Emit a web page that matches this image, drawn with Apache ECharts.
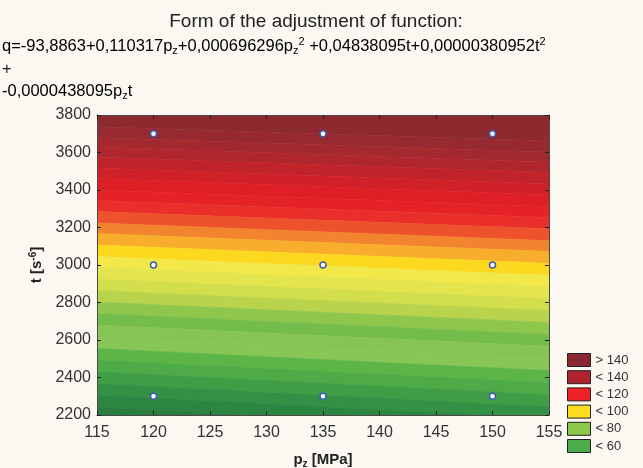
<!DOCTYPE html>
<html><head><meta charset="utf-8">
<script src="https://cdn.jsdelivr.net/npm/echarts@6/dist/echarts.min.js"></script>
<style>html,body{margin:0;padding:0;background:#fbf8f2;}#c{width:643px;height:468px;}</style>
</head><body><div id="c"></div>
<script>
// ---- data ----
const pMin = 115, pMax = 155;          // x axis range (MPa)
const tMin = 2200, tMax = 3800;        // y axis range
// contour band edges (t value) at p = 115 (left) and p = 155 (right), top to bottom
const edgesLeft  = [3738, 3680, 3629, 3576, 3517, 3461, 3400, 3344, 3285, 3224, 3168, 3107, 3045,
                    2987, 2925, 2864, 2803, 2741, 2680, 2616, 2555, 2493, 2432, 2368, 2307, 2243];
const edgesRight = [3663, 3603, 3550, 3495, 3434, 3375, 3312, 3254, 3193, 3130, 3072, 3009, 2945,
                    2884, 2820, 2757, 2694, 2630, 2567, 2501, 2437, 2373, 2310, 2244, 2181, 2115];
const bandColors = ['#8d2a2f','#962a30','#a22a2f','#b0262d','#c0232a','#d02128','#de1f26','#e52327',
                    '#ea2e2a','#ee522d','#f2842f','#f8ae2c','#fcd81f','#f2e84a','#e4e44e','#d3de4c',
                    '#b9d34c','#8fc64c','#74bc4b','#86c455','#88c657','#5db548','#4eab47','#3f9d45',
                    '#339044','#2c8540','#297c3e'];
// observed design points
const pointsP = [120, 135, 150, 120, 135, 150, 120, 135, 150];
const pointsT = [3700, 3700, 3700, 3000, 3000, 3000, 2300, 2300, 2300];
// legend
const legendLabels = ['> 140', '< 140', '< 120', '< 100', '< 80', '< 60'];
const legendColors = ['#8b2530', '#b0232e', '#ed2128', '#fcdc1f', '#8cc84a', '#4bae4a'];

// ---- build ----
const bandData = bandColors.map((c, i) => [
  i === 0 ? tMax + 300 : edgesLeft[i - 1],
  i === 0 ? tMax + 300 : edgesRight[i - 1],
  i === edgesLeft.length ? tMin - 300 : edgesLeft[i],
  i === edgesLeft.length ? tMin - 300 : edgesRight[i],
  i
]);
const pointData = pointsP.map((p, i) => [p, pointsT[i]]);

const chart = echarts.init(document.getElementById('c'));
const axisCommon = {
  type: 'value', z: 10,
  axisLine: { show: true, lineStyle: { color: '#4a4a4a', width: 1 } },
  axisTick: { show: true, inside: true, length: 4, lineStyle: { color: '#222' } },
  splitLine: { show: false }
};
const series = [
  {
    type: 'custom', clip: true, xAxisIndex: 0, yAxisIndex: 0,
    data: bandData,
    renderItem: function (params, api) {
      const a = api.coord([pMin, api.value(0)]);
      const b = api.coord([pMax, api.value(1)]);
      const c = api.coord([pMax, api.value(3)]);
      const d = api.coord([pMin, api.value(2)]);
      const col = bandColors[api.value(4)];
      return { type: 'polygon', shape: { points: [a, b, c, d] },
               style: { fill: col, stroke: col, lineWidth: 0.6 } };
    },
    encode: { x: -1, y: [0, 1, 2, 3] }
  },
  {
    type: 'scatter', xAxisIndex: 0, yAxisIndex: 0, z: 5,
    data: pointData, symbol: 'circle', symbolSize: 6,
    itemStyle: { color: '#ffffff', borderColor: '#3d5cb8', borderWidth: 1.5, opacity: 1 }
  }
];
legendLabels.forEach((l, i) => series.push({
  type: 'scatter', name: l, data: [],
  itemStyle: { color: legendColors[i], borderColor: '#222', borderWidth: 1, opacity: 1 }
}));

const plainNum = v => String(v);
const richLine = {
  n: { fontSize: 16.5, color: '#222', lineHeight: 20, verticalAlign: 'middle', fontFamily: 'Liberation Sans' },
  s: { fontSize: 11, color: '#222', lineHeight: 11, verticalAlign: 'bottom', fontFamily: 'Liberation Sans' },
  p: { fontSize: 11, color: '#222', lineHeight: 11, verticalAlign: 'top', fontFamily: 'Liberation Sans' }
};

chart.setOption({
  backgroundColor: '#fbf8f2',
  animation: false,
  textStyle: { fontFamily: 'Liberation Sans, Arial, sans-serif' },
  grid: { left: 97, top: 115, width: 452, height: 300, show: false, outerBoundsMode: 'none', containLabel: false },
  xAxis: [
    Object.assign({}, axisCommon, {
      min: pMin, max: pMax, interval: 5, position: 'bottom',
      axisLabel: { fontSize: 16, color: '#333', margin: 10, formatter: plainNum },
      name: '{b|p}{bs|z}{b| [MPa]}', nameLocation: 'middle', nameGap: 36,
      nameTextStyle: { rich: {
        b: { fontSize: 15, fontWeight: 'bold', color: '#222', lineHeight: 18, verticalAlign: 'middle' },
        bs: { fontSize: 10, fontWeight: 'bold', color: '#222', lineHeight: 10, verticalAlign: 'bottom' }
      } }
    }),
    Object.assign({}, axisCommon, {
      min: pMin, max: pMax, interval: 5, position: 'top', axisLabel: { show: false }
    })
  ],
  yAxis: [
    Object.assign({}, axisCommon, {
      min: tMin, max: tMax, interval: 200, position: 'left',
      axisLabel: { fontSize: 16, color: '#333', margin: 6, formatter: plainNum },
      name: '{b|t [s}{bp|-6}{b|]}', nameLocation: 'middle', nameGap: 47,
      nameTextStyle: { rich: {
        b: { fontSize: 15, fontWeight: 'bold', color: '#222', lineHeight: 18, verticalAlign: 'middle' },
        bp: { fontSize: 10, fontWeight: 'bold', color: '#222', lineHeight: 10, verticalAlign: 'top' }
      } }
    }),
    Object.assign({}, axisCommon, {
      min: tMin, max: tMax, interval: 200, position: 'right', axisLabel: { show: false }
    })
  ],
  legend: {
    orient: 'vertical', left: 567, top: 353, height: 115, padding: 0,
    itemWidth: 23, itemHeight: 13, itemGap: 3.2,
    icon: 'rect', data: legendLabels, selectedMode: false,
    itemStyle: { borderColor: '#222', borderWidth: 1, opacity: 1 },
    textStyle: { fontSize: 13, color: '#333', lineHeight: 12 }
  },
  graphic: [
    { type: 'text', x: 316, y: 22, style: {
        text: 'Form of the adjustment of function:', font: '19px "Liberation Sans", Arial, sans-serif',
        fill: '#222', align: 'center', verticalAlign: 'middle' } },
    { type: 'text', x: 2, y: 46, style: {
        text: '{n|q=-93,8863+0,110317p}{s|z}{n|+0,000696296p}{s|z}{p|2}{n| +0,04838095t+0,00000380952t}{p|2}',
        verticalAlign: 'middle', align: 'left', rich: richLine } },
    { type: 'text', x: 2, y: 69, style: {
        text: '+', font: '16.5px "Liberation Sans", Arial, sans-serif', fill: '#222', verticalAlign: 'middle' } },
    { type: 'text', x: 2, y: 91, style: {
        text: '{n|-0,0000438095p}{s|z}{n|t}',
        verticalAlign: 'middle', align: 'left', rich: richLine } }
  ],
  series: series
});
</script>
</body></html>
